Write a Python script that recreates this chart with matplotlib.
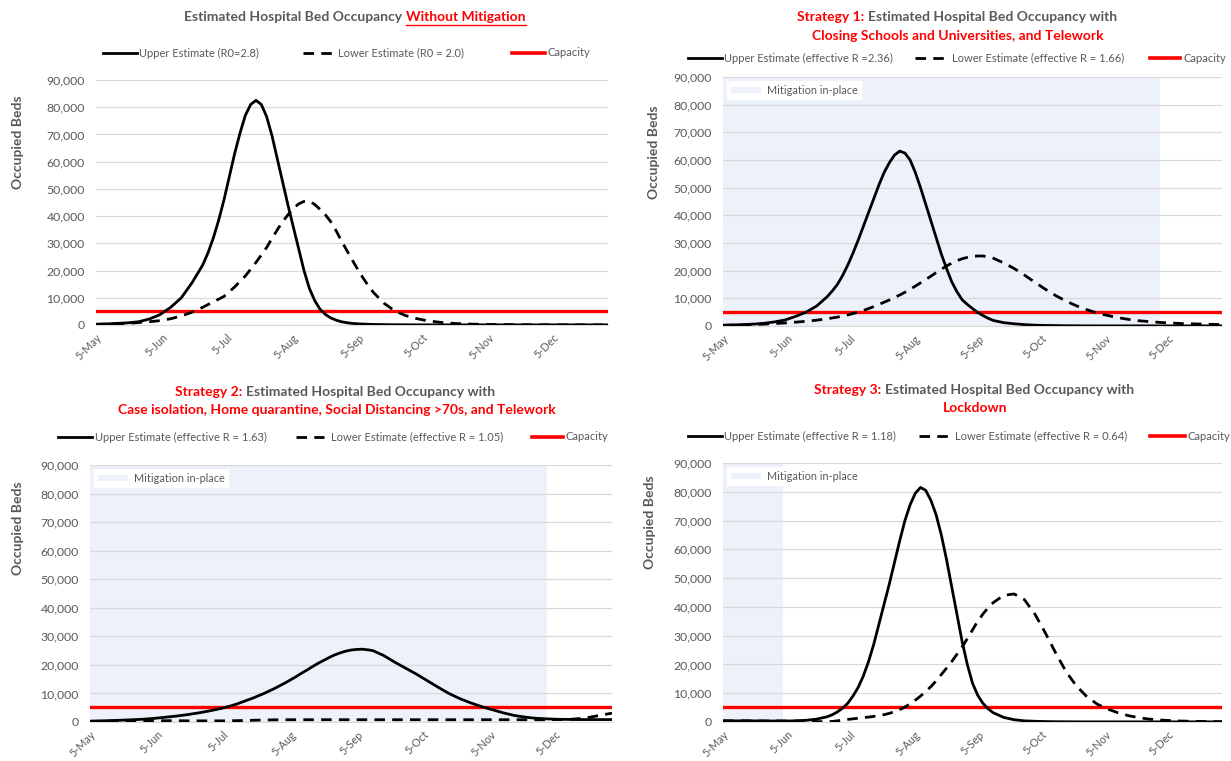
import numpy as np
import matplotlib
matplotlib.use("Agg")
import matplotlib.pyplot as plt
from matplotlib.lines import Line2D
from matplotlib.patches import Patch
from matplotlib.ticker import FuncFormatter

W, H = 1231, 761
FONT = ["Lato", "DejaVu Sans"]
GRAY = "#595959"
RED = "#FF0000"
SHADE = "#EDF1FA"
GRID = "#D9D9D9"

# ---------------- data (days since 5-May) ----------------
days = [0, 5, 10, 15, 20, 25, 30, 35, 40, 45, 50,
        52.5, 55, 57.5, 60, 62.5, 65, 67.5, 70, 72.5, 75, 77.5, 80, 82.5, 85, 87.5, 90,
        92.5, 95, 97.5, 100, 102.5, 105, 107.5, 110, 112.5, 115, 117.5, 120, 122.5, 125, 127.5,
        130, 135, 140, 145, 150, 155, 160, 165, 170, 175, 180, 185, 190, 195, 200, 205,
        210, 215, 220, 225, 230, 235, 240]

tick_days = [0, 31, 61, 92, 123, 153, 184, 214]
tick_labels = ["5-May", "5-Jun", "5-Jul", "5-Aug", "5-Sep", "5-Oct", "5-Nov", "5-Dec"]
y_ticks = [0, 10000, 20000, 30000, 40000, 50000, 60000, 70000, 80000, 90000]
capacity = 5200

# Without mitigation
upper_0 = [300, 400, 600, 800, 1200, 2200, 3800, 6500, 10000, 15500, 22000,
           26500, 32000, 38500, 46000, 54500, 63000, 70500, 77000, 81000, 82500,
           81000, 76500, 69500, 61000, 52500, 44000, 36000, 28000, 20000, 13500,
           9000, 5800, 3900, 2600, 1800, 1200, 850, 600, 450, 350, 270,
           200, 150, 100, 80, 60, 50, 50, 50, 50, 50, 50, 50, 50, 50, 50, 50,
           50, 50, 50, 50, 50, 50, 50]
lower_0 = [200, 300, 400, 600, 900, 1200, 1600, 2300, 3300, 4700, 6500,
           7500, 8500, 9500, 10500, 12200, 14000, 16000, 18000, 20500, 23000,
           25700, 28500, 31800, 35000, 38000, 40500, 42800, 44500, 45400, 45500,
           44300, 42500, 40500, 38000, 34700, 31000, 27500, 24000, 20700, 17500, 14600,
           12000, 8000, 5200, 3500, 2400, 1600, 1100, 700, 500, 350, 250, 200, 150, 120,
           100, 80, 60, 50, 50, 50, 50, 50, 50]

# Strategy 1
upper_1 = [300, 400, 500, 700, 1000, 1500, 2200, 3500, 5000, 7200, 10500,
           12600, 15000, 18200, 22000, 26300, 31000, 36000, 41000, 46000, 51000,
           55500, 59000, 61800, 63200, 62500, 60000, 55500, 50000, 44000, 38000,
           32000, 26000, 20800, 16000, 12400, 9500, 7800, 6300, 4900, 3800, 2800,
           2000, 1200, 800, 500, 300, 200, 150, 100, 80, 60, 50, 50, 50, 50,
           50, 50, 50, 50, 50, 50, 50, 50, 50]
lower_1 = [200, 300, 400, 500, 700, 900, 1100, 1400, 1700, 2100, 2600,
           2900, 3200, 3600, 4000, 4500, 5000, 5600, 6300, 7000, 7800,
           8600, 9400, 10300, 11200, 12200, 13300, 14400, 15600, 16800, 18000,
           19300, 20500, 21700, 22700, 23600, 24300, 24800, 25200, 25300, 25300, 25000,
           24500, 22800, 20800, 18400, 15800, 13300, 11000, 9000, 7300, 5900, 4700, 3800,
           3000, 2400, 1900, 1600, 1300, 1100, 900, 800, 700, 600, 500]

# Strategy 2
upper_2 = [300, 400, 500, 650, 800, 1000, 1300, 1700, 2100, 2600, 3200,
           3550, 3900, 4300, 4700, 5200, 5700, 6300, 7000, 7700, 8400,
           9200, 10000, 10900, 11800, 12800, 13800, 14900, 16000, 17200, 18300,
           19500, 20600, 21600, 22600, 23500, 24200, 24800, 25200, 25400, 25500, 25300,
           25000, 23300, 21000, 18900, 16800, 14500, 12200, 10000, 8200, 6700, 5400, 4300,
           3200, 2300, 1700, 1300, 1100, 950, 900, 850, 850, 850, 850]
lower_2 = [200, 250, 300, 350, 400, 400, 450, 450, 450, 400, 400,
           400, 400, 400, 400, 420, 450, 480, 500, 550, 600,
           650, 700, 720, 750, 780, 800, 800, 800, 800, 800,
           800, 800, 800, 800, 800, 800, 800, 800, 800, 800, 800,
           800, 800, 800, 800, 800, 800, 800, 800, 800, 800, 800, 800,
           800, 800, 800, 800, 800, 850, 900, 1200, 1700, 2400, 3100]

# Strategy 3
upper_3 = [400, 400, 400, 400, 350, 350, 350, 400, 600, 1000, 1800,
           2500, 3500, 4800, 6500, 9000, 12000, 16000, 21000, 27000, 34000,
           41000, 48000, 55500, 63000, 70000, 75500, 79500, 81500, 80500, 77000,
           72000, 65000, 56500, 47000, 37500, 28000, 20000, 13500, 9300, 6500, 4600,
           3200, 1600, 800, 400, 250, 150, 100, 80, 60, 50, 50, 50,
           50, 50, 50, 50, 50, 50, 50, 50, 50, 50, 50]
lower_3 = [400, 400, 400, 400, 350, 350, 350, 350, 300, 150, 100,
           200, 400, 650, 900, 1100, 1300, 1500, 1700, 1950, 2200,
           2550, 3000, 3600, 4300, 5200, 6300, 7600, 9000, 10600, 12300,
           14300, 16500, 18700, 21000, 23500, 26000, 29000, 32000, 35000, 37500, 39700,
           41500, 44000, 44500, 42500, 37500, 31000, 24000, 17500, 12500, 8800, 6200, 4500,
           3200, 2200, 1500, 1000, 700, 500, 350, 250, 200, 150, 100]

mitigation_end = [None, 210, 210, 29]

legend_texts = [
    ("Upper Estimate (R0=2.8)", "Lower Estimate (R0 = 2.0)", "Capacity"),
    ("Upper Estimate (effective R =2.36)", "Lower Estimate (effective R = 1.66)", "Capacity"),
    ("Upper Estimate (effective R = 1.63)", "Lower Estimate (effective R = 1.05)", "Capacity"),
    ("Upper Estimate (effective R = 1.18)", "Lower Estimate (effective R = 0.64)", "Capacity"),
]
series = [(upper_0, lower_0), (upper_1, lower_1), (upper_2, lower_2), (upper_3, lower_3)]

# ---------------- layout (pixel boxes: left, top, right, bottom) ----------------
boxes = [(96, 80, 608, 325), (723, 77, 1222, 326), (90, 465, 612, 722), (723, 463, 1222, 722)]
ylabel_pos = [(18, 142), (654, 152), (18, 528), (650, 522)]
legend_pos = [
    (53, (103, 137, 139), (303, 335, 338), (512, 545, 547)),
    (58, (688, 722, 724), (915, 945, 952), (1150, 1180, 1183)),
    (437, (58, 92, 95), (296, 324, 331), (532, 563, 566)),
    (436, (688, 722, 724), (919, 948, 955), (1150, 1185, 1187)),
]

fig = plt.figure(figsize=(W / 100, H / 100), dpi=100)
fig.patch.set_facecolor("white")
renderer = fig.canvas.get_renderer()


def fx(x):
    return x / W


def fy(y):
    return 1 - y / H


fmt = FuncFormatter(lambda v, p: f"{int(v):,}")
dash = (0, (3.8, 2.6))

for i, (box, (up, lo)) in enumerate(zip(boxes, series)):
    l, t, r, b = box
    ax = fig.add_axes([fx(l), fy(b), (r - l) / W, (b - t) / H])
    ax.set_xlim(0, 240)
    ax.set_ylim(0, 90000)
    if mitigation_end[i] is not None:
        ax.axvspan(0, mitigation_end[i], color=SHADE, lw=0, zorder=0)
        ax.legend(handles=[Patch(facecolor=SHADE, edgecolor="none", label="Mitigation in-place")],
                  loc="upper left", frameon=True, facecolor="white", edgecolor="none",
                  framealpha=1, fancybox=False, handlelength=2.8, handleheight=0.5,
                  handletextpad=0.5, borderaxespad=0.35, borderpad=0.4,
                  prop={"family": FONT, "size": 7.8}, labelcolor=GRAY)
    ax.set_yticks(y_ticks)
    ax.yaxis.set_major_formatter(fmt)
    ax.set_xticks(tick_days)
    ax.set_xticklabels(tick_labels, rotation=45, ha="right", rotation_mode="anchor")
    ax.grid(axis="y", color=GRID, lw=0.9, zorder=1)
    ax.set_axisbelow(True)
    for s in ["top", "right", "left"]:
        ax.spines[s].set_visible(False)
    ax.spines["bottom"].set_color(GRID)
    ax.tick_params(length=0, colors=GRAY)
    for lab in ax.get_yticklabels():
        lab.set_fontfamily(FONT); lab.set_fontsize(8.8); lab.set_color(GRAY)
    for lab in ax.get_xticklabels():
        lab.set_fontfamily(FONT); lab.set_fontsize(7.8); lab.set_color(GRAY)
    ax.tick_params(axis="y", pad=8)
    ax.tick_params(axis="x", pad=5)
    ax.axhline(capacity, color=RED, lw=2.4, zorder=3)
    ax.plot(days, lo, color="black", lw=2.0, linestyle=dash, zorder=4)
    ax.plot(days, up, color="black", lw=2.0, zorder=5)
    lx, lyy = ylabel_pos[i]
    fig.text(fx(lx), fy(lyy), "Occupied Beds", rotation=90, ha="center",
             va="center", fontsize=10, fontweight="bold", color=GRAY, family=FONT)

    # top legend
    ly, s1, s2, s3 = legend_pos[i]
    specs = [(s1, "-", "black", 2.0), (s2, dash, "black", 2.0), (s3, "-", RED, 2.6)]
    for (xs, ls, col, lw_), txt in zip(specs, legend_texts[i]):
        x0, x1, tx = xs
        fig.add_artist(Line2D([fx(x0), fx(x1)], [fy(ly), fy(ly)], transform=fig.transFigure,
                              color=col, lw=lw_, linestyle=ls))
        fig.text(fx(tx), fy(ly), txt, ha="left", va="center", fontsize=8, color=GRAY, family=FONT)


def rich_line(pieces, cx, cy, size=10, underline_last=False):
    full = "".join(p for p, c in pieces)
    probe = fig.text(0, 0, full, fontsize=size, fontweight="bold", family=FONT)
    wfull = probe.get_window_extent(renderer).width
    probe.remove()
    start = cx - wfull / 2
    if len(pieces) == 1:
        fig.text(fx(start), fy(cy), pieces[0][0], fontsize=size, fontweight="bold",
                 color=pieces[0][1], family=FONT, ha="left", va="center")
        return
    p1, c1 = pieces[0]
    p2, c2 = pieces[1]
    fig.text(fx(start), fy(cy), p1, fontsize=size, fontweight="bold", color=c1,
             family=FONT, ha="left", va="center")
    p2s = p2.lstrip()
    t2 = fig.text(0, 0, p2s, fontsize=size, fontweight="bold", color=c2, family=FONT,
                  ha="left", va="center")
    w2 = t2.get_window_extent(renderer).width
    x2 = start + wfull - w2
    t2.set_position((fx(x2), fy(cy)))
    if underline_last:
        fig.add_artist(Line2D([fx(x2), fx(x2 + w2)], [fy(cy + 8), fy(cy + 8)],
                              transform=fig.transFigure, color=c2, lw=1.0))


rich_line([("Estimated Hospital Bed Occupancy ", GRAY), ("Without Mitigation", RED)], 355, 17,
          underline_last=True)
rich_line([("Strategy 1:", RED), (" Estimated Hospital Bed Occupancy with", GRAY)], 957, 17)
rich_line([("Closing Schools and Universities, and Telework", RED)], 958, 36)
rich_line([("Strategy 2:", RED), (" Estimated Hospital Bed Occupancy with", GRAY)], 335, 392)
rich_line([("Case isolation, Home quarantine, Social Distancing >70s, and Telework", RED)], 337, 410)
rich_line([("Strategy 3:", RED), (" Estimated Hospital Bed Occupancy with", GRAY)], 974, 390)
rich_line([("Lockdown", RED)], 975, 408)

fig.savefig("out.png", dpi=100, facecolor="white")
